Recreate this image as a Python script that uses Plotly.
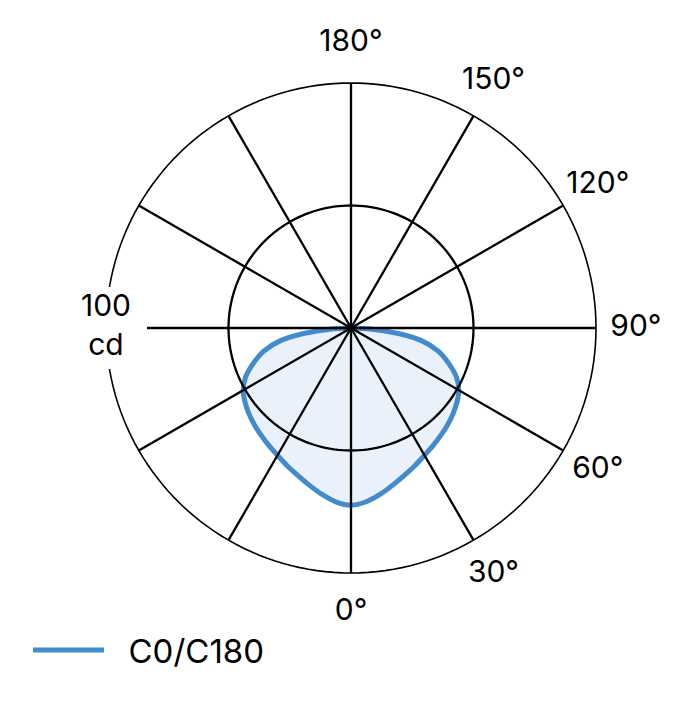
import plotly.graph_objects as go

# gamma angles (deg) and intensity (cd) for the C0/C180 plane, one half
gamma = [0, 5, 10, 15, 20, 25, 30, 35, 40, 45, 50, 55, 60, 65, 70, 75, 80, 85, 90]
intensity = [72.3, 71.2, 68.9, 66.3, 63.9, 61.9, 60.0, 58.5, 57.1, 55.8, 54.4, 52.8,
             50.8, 47.5, 42.5, 37, 29, 14, 0]

spoke_angles = [0, 30, 60, 90, 120, 150, 180, 210, 240, 270, 300, 330]
ring_values = [50, 100]
label_angles = [0, 30, 60, 90, 120, 150, 180]
angle_labels = ["0°", "30°", "60°", "90°", "120°", "150°", "180°"]
label_radius = 116.3
scale_label = "100<br>cd"

FONT = "Inter"
BLUE = "#428bcd"

# mirror the half curve to get a closed outline (90 -> 0 -> 270)
theta = [g for g in reversed(gamma)] + [360 - g for g in gamma[1:]]
r = [v for v in reversed(intensity)] + intensity[1:]

fig = go.Figure()

# filled area
fig.add_trace(go.Scatterpolar(
    r=r, theta=theta, mode="lines", fill="toself",
    fillcolor="#eaf1fa", line=dict(width=0, shape="spline"),
    showlegend=False, hoverinfo="skip",
))
# outline
fig.add_trace(go.Scatterpolar(
    r=r, theta=theta, mode="lines", name="\u2002\u200aC0/C180",
    line=dict(color=BLUE, width=5, shape="spline"),
))

# spokes
sr, st = [], []
for a in spoke_angles:
    sr += [0, ring_values[-1], None]
    st += [a, a, None]
fig.add_trace(go.Scatterpolar(r=sr, theta=st, mode="lines",
                              line=dict(color="black", width=2.3),
                              showlegend=False, hoverinfo="skip"))

# rings
ring_theta = list(range(0, 361, 2))
for i, rv in enumerate(ring_values):
    fig.add_trace(go.Scatterpolar(
        r=[rv] * len(ring_theta), theta=ring_theta, mode="lines",
        line=dict(color="black", width=2.3 if i < len(ring_values) - 1 else 1.6),
        showlegend=False, hoverinfo="skip"))

# white box behind the scale label + label
fig.add_trace(go.Scatterpolar(
    r=[ring_values[-1]], theta=[270], mode="markers+text",
    marker=dict(symbol="square", size=82, color="white"),
    text=[scale_label], textposition="middle center",
    textfont=dict(family=FONT, size=30, color="black"),
    cliponaxis=False, showlegend=False, hoverinfo="skip"))

# angle labels
fig.add_trace(go.Scatterpolar(
    r=[label_radius] * len(label_angles), theta=label_angles, mode="text",
    text=angle_labels, textposition="middle center",
    textfont=dict(family=FONT, size=30, color="black"),
    cliponaxis=False, showlegend=False, hoverinfo="skip"))

# page body has an 8px margin, so the figure is laid out 8px up/left
cx, cy, rad = 343, 320, 245 * 1.25
fig.update_layout(
    width=680, height=720,
    margin=dict(l=0, r=0, t=0, b=0),
    paper_bgcolor="white",
    font=dict(family=FONT, color="black"),
    polar=dict(
        domain=dict(x=[(cx - rad) / 680, (cx + rad) / 680],
                    y=[1 - (cy + rad) / 720, 1 - (cy - rad) / 720]),
        bgcolor="rgba(0,0,0,0)",
        radialaxis=dict(range=[0, 125], visible=False),
        angularaxis=dict(rotation=270, direction="counterclockwise", visible=False),
    ),
    legend=dict(
        x=20 / 680, y=1 - 642 / 720, xanchor="left", yanchor="middle",
        font=dict(family=FONT, size=33, color="black"),
        itemwidth=71, bgcolor="rgba(0,0,0,0)",
    ),
    showlegend=True,
)

fig.write_html("out.html")
